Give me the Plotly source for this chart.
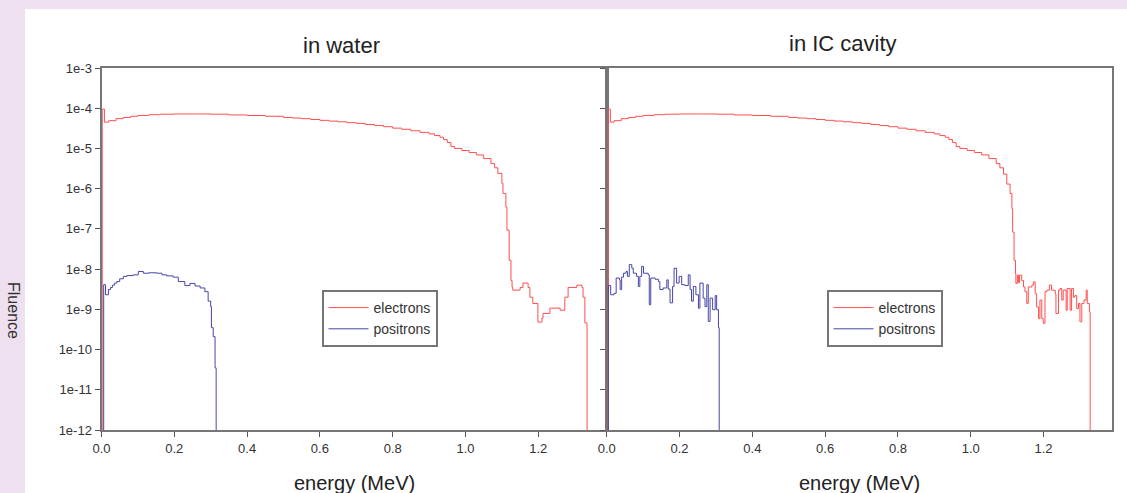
import plotly.graph_objects as go

# ---------------- data ----------------
e_water_x = [0.0, 0.002, 0.008, 0.02, 0.04, 0.06, 0.08, 0.10, 0.13, 0.16, 0.20, 0.25, 0.30, 0.35,
             0.40, 0.45, 0.50, 0.525, 0.55, 0.575, 0.60, 0.625, 0.65, 0.675, 0.70, 0.725, 0.75,
             0.775, 0.80, 0.825, 0.85, 0.875, 0.90, 0.915, 0.93, 0.94, 0.95, 0.96,
             0.97, 0.99, 1.01, 1.03, 1.05, 1.07, 1.08, 1.089, 1.100, 1.103, 1.111, 1.114, 1.120,
             1.125, 1.128, 1.130, 1.150, 1.158, 1.172, 1.177, 1.185, 1.199, 1.210, 1.213, 1.232,
             1.260, 1.273, 1.282, 1.306, 1.320, 1.323, 1.328, 1.334]
e_water_y = [1e-13, 9.5e-5, 4.5e-5, 4.9e-5, 5.5e-5, 5.9e-5, 6.3e-5, 6.6e-5, 6.9e-5, 7.1e-5, 7.2e-5,
             7.2e-5, 7.1e-5, 6.8e-5, 6.6e-5, 6.3e-5, 5.9e-5, 5.69e-5, 5.5e-5, 5.25e-5, 5.0e-5,
             4.79e-5, 4.6e-5, 4.37e-5, 4.2e-5, 3.94e-5, 3.7e-5, 3.47e-5, 3.2e-5, 2.99e-5,
             2.75e-5, 2.51e-5, 2.3e-5, 2.09e-5, 1.9e-5, 1.66e-5, 1.4e-5, 1.12e-5, 1.0e-5,
             8.9e-6, 7.9e-6, 6.9e-6,
             5.6e-6, 4.2e-6, 3.3e-6, 2.4e-6, 1.35e-6, 7.6e-7, 3.5e-7, 9.3e-8, 1.66e-8, 5.2e-9,
             3.5e-9, 3.0e-9, 3.5e-9, 4.5e-9, 3.5e-9, 2.0e-9, 1.4e-9, 4.8e-10, 6.0e-10, 7.9e-10,
             1.07e-9, 9.5e-10, 2.0e-9, 3.5e-9, 4.0e-9, 3.5e-9, 2.0e-9, 4.6e-10, 1e-13]

p_water_x = [0.0, 0.006, 0.011, 0.019, 0.025, 0.030, 0.036, 0.042, 0.050, 0.060, 0.070, 0.087,
             0.101, 0.115, 0.130, 0.152, 0.166, 0.179, 0.197, 0.211, 0.229, 0.243, 0.257, 0.271,
             0.284, 0.293, 0.300, 0.302, 0.307, 0.312, 0.315]
p_water_y = [1e-13, 4.1e-9, 2.3e-9, 3.1e-9, 3.5e-9, 4.0e-9, 4.5e-9, 4.9e-9, 5.75e-9, 6.6e-9,
             6.9e-9, 7.2e-9, 8.7e-9, 7.9e-9, 8.1e-9, 7.9e-9, 7.2e-9, 6.8e-9, 6.3e-9, 4.9e-9,
             3.9e-9, 4.4e-9, 3.8e-9, 3.4e-9, 2.75e-9, 1.6e-9, 1.17e-9, 3.5e-10, 2.1e-10, 3.5e-11,
             1e-13]

e_cav_x = [0.0, 0.004, 0.010, 0.02, 0.04, 0.06, 0.08, 0.10, 0.13, 0.16, 0.20, 0.25, 0.30, 0.35,
           0.40, 0.45, 0.50, 0.525, 0.55, 0.575, 0.60, 0.625, 0.65, 0.675, 0.70, 0.725, 0.75,
           0.775, 0.80, 0.825, 0.85, 0.875, 0.90, 0.915, 0.93, 0.94, 0.95, 0.96,
           0.97, 0.99, 1.01, 1.03, 1.05, 1.07, 1.08, 1.090, 1.099, 1.108, 1.113, 1.115, 1.119,
           1.123, 1.124, 1.128, 1.131, 1.134, 1.140, 1.145, 1.149, 1.154, 1.158, 1.168, 1.172,
           1.177, 1.181, 1.186, 1.190, 1.195, 1.199, 1.204, 1.209, 1.216, 1.222, 1.232, 1.234,
           1.241, 1.245, 1.250, 1.254, 1.262, 1.265, 1.273, 1.277, 1.282, 1.286, 1.291, 1.296,
           1.300, 1.305, 1.311, 1.317, 1.320, 1.326, 1.328]
e_cav_y = [1e-13, 9.5e-5, 4.5e-5, 4.9e-5, 5.5e-5, 5.9e-5, 6.3e-5, 6.6e-5, 6.9e-5, 7.1e-5, 7.2e-5,
           7.2e-5, 7.1e-5, 6.8e-5, 6.6e-5, 6.3e-5, 5.9e-5, 5.69e-5, 5.5e-5, 5.25e-5, 5.0e-5,
           4.79e-5, 4.6e-5, 4.37e-5, 4.2e-5, 3.94e-5, 3.7e-5, 3.47e-5, 3.2e-5, 2.99e-5,
           2.75e-5, 2.51e-5, 2.3e-5, 2.09e-5, 1.9e-5, 1.66e-5, 1.4e-5, 1.12e-5, 1.0e-5,
           8.9e-6, 7.9e-6, 6.9e-6,
           5.6e-6, 4.2e-6, 3.3e-6, 2.3e-6, 1.3e-6, 7.6e-7, 3.2e-7, 8.3e-8, 1.66e-8, 7.8e-9,
           4.4e-9, 7.1e-9, 4.6e-9, 7.1e-9, 5.2e-9, 3.6e-9, 2.75e-9, 1.4e-9, 3.6e-9, 4.0e-9,
           4.8e-9, 2.45e-9, 1.15e-9, 5.9e-10, 1.7e-9, 5.9e-10, 4.5e-10, 2.75e-9, 3.0e-9, 4.0e-9,
           3.0e-9, 2.45e-9, 7.9e-10, 3.0e-9, 3.3e-9, 1.7e-9, 3.0e-9, 9.5e-10, 3.3e-9, 9.5e-10,
           3.3e-9, 2.0e-9, 2.2e-9, 1.05e-9, 1.4e-9, 4.9e-10, 1.4e-9, 1.7e-9, 3.0e-9, 1.4e-9,
           8.7e-10, 1e-13]

p_cav_x = [0.0, 0.0045, 0.011, 0.020, 0.026, 0.035, 0.037, 0.041, 0.046, 0.053, 0.057, 0.062,
           0.069, 0.073, 0.082, 0.087, 0.091, 0.096, 0.101, 0.114, 0.117, 0.121, 0.133, 0.142,
           0.146, 0.155, 0.165, 0.169, 0.174, 0.181, 0.185, 0.192, 0.199, 0.206, 0.215, 0.224,
           0.229, 0.233, 0.238, 0.245, 0.252, 0.256, 0.265, 0.270, 0.275, 0.279, 0.284, 0.291,
           0.298, 0.302, 0.307, 0.309]
p_cav_y = [1e-13, 3.9e-9, 2.3e-9, 2.5e-9, 6.0e-9, 5.4e-9, 3.1e-9, 6.3e-9, 7.9e-9, 8.7e-9, 6.6e-9,
           1.29e-8, 1.05e-8, 7.9e-9, 6.6e-9, 3.7e-9, 6.6e-9, 1.17e-8, 7.9e-9, 7.2e-9, 1.3e-9,
           6.0e-9, 5.6e-9, 4.9e-9, 3.1e-9, 3.4e-9, 5.4e-9, 3.2e-9, 1.45e-9, 3.7e-9, 1.05e-8,
           4.5e-9, 6.6e-9, 4.1e-9, 3.9e-9, 7.2e-9, 3.1e-9, 1.6e-9, 3.7e-9, 2.3e-9, 1.07e-9,
           4.5e-9, 1.9e-9, 1.17e-9, 4.1e-9, 5.0e-10, 1.9e-9, 9.8e-10, 2.2e-9, 9.8e-10, 3.5e-10,
           1e-13]

y_tickvals = [1e-3, 1e-4, 1e-5, 1e-6, 1e-7, 1e-8, 1e-9, 1e-10, 1e-11, 1e-12]
y_ticktext = ["1e-3", "1e-4", "1e-5", "1e-6", "1e-7", "1e-8", "1e-9", "1e-10", "1e-11", "1e-12"]
x_tickvals = [0.0, 0.2, 0.4, 0.6, 0.8, 1.0, 1.2]
panel_titles = ["in water", "in IC cavity"]
x_title = "energy (MeV)"
y_title = "Fluence"

# ---------------- styling ----------------
W, H = 1127, 493
RED = "#FF4F4F"
BLUE = "#4646A8"
AXC = "#767676"
FONT = "Arial, Liberation Sans, sans-serif"


def px_x(p):
    return p / W


def px_y(p):
    return 1 - p / H


fig = go.Figure()

fig.add_trace(go.Scatter(x=e_water_x, y=e_water_y, mode="lines", line_shape="hv",
                         line=dict(color=RED, width=1), name="electrons",
                         xaxis="x", yaxis="y", legend="legend"))
fig.add_trace(go.Scatter(x=p_water_x, y=p_water_y, mode="lines", line_shape="hv",
                         line=dict(color=BLUE, width=1), name="positrons",
                         xaxis="x", yaxis="y", legend="legend"))
fig.add_trace(go.Scatter(x=e_cav_x, y=e_cav_y, mode="lines", line_shape="hv",
                         line=dict(color=RED, width=1), name="electrons",
                         xaxis="x2", yaxis="y2", legend="legend2"))
fig.add_trace(go.Scatter(x=p_cav_x, y=p_cav_y, mode="lines", line_shape="hv",
                         line=dict(color=BLUE, width=1), name="positrons",
                         xaxis="x2", yaxis="y2", legend="legend2"))

x0L, x1L = 101.5, 606.7
x0R, x1R = 606.7, 1112.0
yT, yB = 68.0, 430.0

xcommon = dict(range=[0, 1.388], tickvals=x_tickvals, ticktext=[f"{v:.1f}" for v in x_tickvals],
               showline=True, linecolor=AXC, linewidth=2, mirror=True,
               ticks="outside", ticklen=5, tickcolor="#555555", tickwidth=1,
               showgrid=False, zeroline=False, automargin=False,
               tickfont=dict(family=FONT, size=13, color="#333333"))
ycommon = dict(type="log", range=[-12, -3], tickvals=y_tickvals, ticktext=y_ticktext,
               showline=True, linecolor=AXC, linewidth=2, mirror=True,
               ticks="outside", ticklen=5, tickcolor="#555555", tickwidth=1,
               showgrid=False, zeroline=False, automargin=False,
               tickfont=dict(family=FONT, size=13, color="#333333"))

legend_common = dict(xanchor="left", yanchor="top", bgcolor="white", bordercolor=AXC,
                     borderwidth=2, font=dict(family=FONT, size=14, color="#333333"),
                     tracegroupgap=0, itemwidth=40)


def note(text, x, y, size, color="#222222", angle=0):
    return dict(text=text, x=px_x(x), y=px_y(y), xref="paper", yref="paper",
                xanchor="center", yanchor="middle", showarrow=False, textangle=angle,
                font=dict(family=FONT, size=size, color=color))


fig.update_layout(
    width=W, height=H, autosize=False,
    margin=dict(l=0, r=0, t=0, b=0, pad=0),
    paper_bgcolor="#EFE0EF",
    plot_bgcolor="white",
    xaxis=dict(domain=[px_x(x0L), px_x(x1L)], anchor="y", **xcommon),
    yaxis=dict(domain=[px_y(yB), px_y(yT)], anchor="x", **ycommon),
    xaxis2=dict(domain=[px_x(x0R), px_x(x1R)], anchor="y2", **xcommon),
    yaxis2=dict(domain=[px_y(yB), px_y(yT)], anchor="x2", showticklabels=False, **ycommon),
    legend=dict(x=px_x(321.5), y=px_y(290), **legend_common),
    legend2=dict(x=px_x(826.5), y=px_y(290), **legend_common),
    shapes=[dict(type="rect", xref="paper", yref="paper", x0=px_x(25), x1=1.0,
                 y0=0, y1=px_y(9), fillcolor="white", line=dict(width=0), layer="below")],
    annotations=[
        note(panel_titles[0], 341, 45, 22),
        note(panel_titles[1], 843, 44, 22),
        note(x_title, 354, 483, 20),
        note(x_title, 859, 483, 20),
        note(y_title, 14, 310, 16, "#333333", 90),
    ],
)

fig.write_html("out.html", config={"responsive": False, "displayModeBar": False},
               post_script="document.body.style.margin='0';document.body.style.overflow='hidden';")
